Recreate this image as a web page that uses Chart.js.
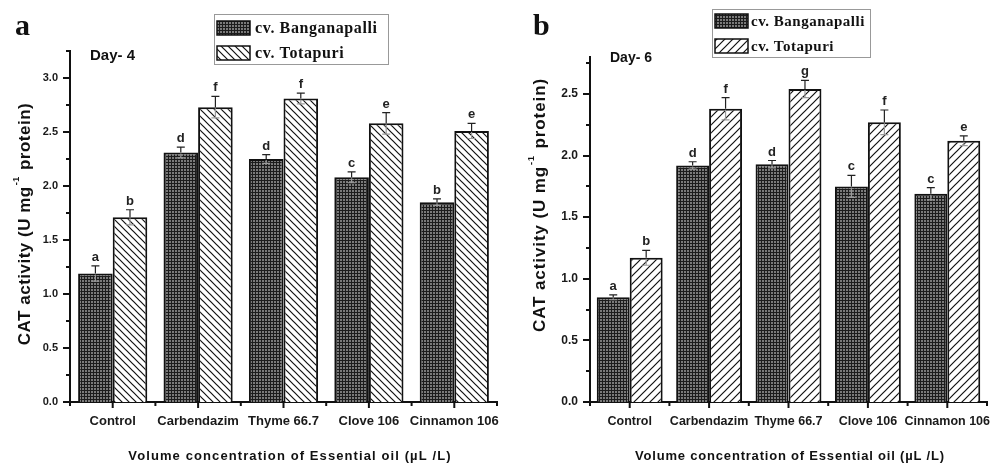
<!DOCTYPE html>
<html>
<head>
<meta charset="utf-8">
<script src="https://cdn.jsdelivr.net/npm/chart.js@4.4.0/dist/chart.umd.min.js"></script>
<style>
    html, body { margin: 0; padding: 0; background: #fff; }
    .panel { position: absolute; top: 0; height: 465px; }
    #panelA { left: 0; width: 500px; }
    #panelB { left: 500px; width: 503px; }
</style>
</head>
<body>
<div class="panel" id="panelA"><canvas id="day4Chart" width="500" height="465"></canvas></div>
<div class="panel" id="panelB"><canvas id="day6Chart" width="503" height="465"></canvas></div>
<script>
const categories = ['Control', 'Carbendazim', 'Thyme 66.7', 'Clove 106', 'Cinnamon 106'];
const seriesNames = ['cv. Banganapalli', 'cv. Totapuri'];

// Day 4
const day4Banganapalli = [1.19, 2.31, 2.25, 2.08, 1.85];
const day4BanganapalliErr = [0.07, 0.05, 0.04, 0.05, 0.03];
const day4BanganapalliLetters = ['a', 'd', 'd', 'c', 'b'];
const day4Totapuri = [1.71, 2.73, 2.81, 2.58, 2.51];
const day4TotapuriErr = [0.07, 0.10, 0.05, 0.10, 0.07];
const day4TotapuriLetters = ['b', 'f', 'f', 'e', 'e'];
const day4YTicks = [0, 0.5, 1.0, 1.5, 2.0, 2.5, 3.0];

// Day 6
const day6Banganapalli = [0.85, 1.92, 1.93, 1.75, 1.69];
const day6BanganapalliErr = [0.02, 0.03, 0.03, 0.09, 0.05];
const day6BanganapalliLetters = ['a', 'd', 'd', 'c', 'c'];
const day6Totapuri = [1.17, 2.38, 2.54, 2.27, 2.12];
const day6TotapuriErr = [0.06, 0.09, 0.07, 0.10, 0.04];
const day6TotapuriLetters = ['b', 'f', 'g', 'f', 'e'];
const day6YTicks = [0, 0.5, 1.0, 1.5, 2.0, 2.5];

const yTitleMain = 'CAT activity (U mg';
const yTitleSup = '-1';
const yTitleEnd = ' protein)';
const xTitle = 'Volume concentration of Essential oil (\u00b5L /L)';

const sans = '"Liberation Sans", Arial, sans-serif';
const serif = '"Liberation Serif", "Times New Roman", serif';


function gridPattern() {
    const c = document.createElement('canvas');
    c.width = 3; c.height = 3;
    const g = c.getContext('2d');
    g.fillStyle = '#7a7a7a';
    g.fillRect(0, 0, 3, 3);
    g.fillStyle = '#1c1c1c';
    g.fillRect(0, 0, 3, 1);
    g.fillRect(0, 0, 1, 3);
    return g.createPattern(c, 'repeat');
}

function hatchPattern(forward, size) {
    const c = document.createElement('canvas');
    c.width = size; c.height = size;
    const g = c.getContext('2d');
    g.fillStyle = '#fff';
    g.fillRect(0, 0, size, size);
    g.strokeStyle = '#111';
    g.lineWidth = 1.2;
    g.beginPath();
    for (const k of [-size, 0, size]) {
        if (forward) {
            g.moveTo(k - 1, size + 1); g.lineTo(k + size + 1, -1);
        } else {
            g.moveTo(k - 1, -1); g.lineTo(k + size + 1, size + 1);
        }
    }
    g.stroke();
    return g.createPattern(c, 'repeat');
}


// ticks, error bars, letters, legend and labels
const panelDecor = {
    id: 'panelDecor',
    afterDatasetsDraw(chart, args, opts) {
        const ctx = chart.ctx;
        const x = chart.scales.x;
        const y = chart.scales.y;
        const area = chart.chartArea;

        ctx.save();
        ctx.strokeStyle = '#111';
        ctx.lineWidth = 2;

        // y ticks, major + minor
        for (let v = 0; v <= y.max + 1e-9; v += 0.25) {
            const py = Math.round(y.getPixelForValue(v));
            const major = Math.abs(v * 2 - Math.round(v * 2)) < 1e-6;
            ctx.beginPath();
            ctx.moveTo(area.left, py);
            ctx.lineTo(area.left - (major ? 7 : 4), py);
            ctx.stroke();
        }
        // x ticks at centers and boundaries
        const step = (area.right - area.left) / categories.length;
        for (let i = 0; i <= categories.length; i++) {
            const bx = area.left + i * step;
            ctx.beginPath();
            ctx.moveTo(bx, area.bottom);
            ctx.lineTo(bx, area.bottom + 4);
            ctx.stroke();
            if (i < categories.length) {
                const cx = x.getPixelForValue(i);
                ctx.beginPath();
                ctx.moveTo(cx, area.bottom);
                ctx.lineTo(cx, area.bottom + 6);
                ctx.stroke();
            }
        }

        // error bars and letters
        chart.data.datasets.forEach((ds, di) => {
            const meta = chart.getDatasetMeta(di);
            meta.data.forEach((bar, i) => {
                const v = ds.data[i];
                const e = ds.errors[i];
                const top = y.getPixelForValue(v + e);
                const mid = y.getPixelForValue(v);
                const bot = y.getPixelForValue(v - e);
                ctx.lineWidth = 1.2;
                ctx.strokeStyle = '#222';
                ctx.beginPath();
                ctx.moveTo(bar.x, top); ctx.lineTo(bar.x, mid);
                ctx.moveTo(bar.x - 4, top); ctx.lineTo(bar.x + 4, top);
                ctx.stroke();
                ctx.strokeStyle = '#9a9a9a';
                ctx.beginPath();
                ctx.moveTo(bar.x, mid + 1); ctx.lineTo(bar.x, bot);
                ctx.moveTo(bar.x - 4, bot); ctx.lineTo(bar.x + 4, bot);
                ctx.stroke();
                ctx.fillStyle = '#222';
                ctx.font = 'bold 13px ' + sans;
                ctx.textAlign = 'center';
                ctx.textBaseline = 'alphabetic';
                ctx.fillText(ds.letters[i], bar.x, top - 5);
            });
        });

        // legend box
        const lg = opts.legend;
        ctx.strokeStyle = '#999';
        ctx.lineWidth = 1;
        ctx.strokeRect(lg.x + 0.5, lg.y + 0.5, lg.w, lg.h);
        chart.data.datasets.forEach((ds, di) => {
            const sy = lg.y + lg.rowTop + di * lg.rowGap;
            ctx.fillStyle = ds.backgroundColor;
            ctx.fillRect(lg.x + 3, sy, 33, lg.swH);
            ctx.strokeStyle = '#111';
            ctx.lineWidth = 1.5;
            ctx.strokeRect(lg.x + 3, sy, 33, lg.swH);
            ctx.fillStyle = '#111';
            ctx.font = 'bold ' + lg.font + 'px ' + serif;
            ctx.textAlign = 'left';
            ctx.textBaseline = 'middle';
            ctx.letterSpacing = lg.spacing + 'px';
            ctx.fillText(ds.label, lg.x + lg.textOff, sy + lg.swH / 2 + 1);
            ctx.letterSpacing = '0px';
        });

        // panel letter and day label
        ctx.fillStyle = '#111';
        ctx.textAlign = 'left';
        ctx.textBaseline = 'alphabetic';
        ctx.font = 'bold 30px ' + serif;
        ctx.fillText(opts.panel, opts.panelX, 35);
        ctx.font = 'bold ' + opts.dayFont + 'px ' + sans;
        ctx.fillText(opts.day, opts.dayX, opts.dayY);

        // y title with superscript
        ctx.save();
        ctx.translate(opts.yTitleX, opts.yTitleY);
        ctx.rotate(-Math.PI / 2);
        ctx.letterSpacing = opts.yTitleSpacing + 'px';
        ctx.font = 'bold 17px ' + sans;
        const w1 = ctx.measureText(yTitleMain).width;
        const w3 = ctx.measureText(yTitleEnd).width;
        ctx.font = 'bold 9px ' + sans;
        const w2 = ctx.measureText(yTitleSup).width + 2;
        let tx = -(w1 + w2 + w3) / 2;
        ctx.textBaseline = 'middle';
        ctx.font = 'bold 17px ' + sans;
        ctx.fillText(yTitleMain, tx, 0);
        ctx.font = 'bold 9px ' + sans;
        ctx.fillText(yTitleSup, tx + w1 + 1, -8);
        ctx.font = 'bold 17px ' + sans;
        ctx.fillText(yTitleEnd, tx + w1 + w2, 0);
        ctx.restore();

        // x title, letter spaced
        ctx.font = 'bold 13px ' + sans;
        ctx.textAlign = 'center';
        ctx.textBaseline = 'middle';
        ctx.letterSpacing = opts.xTitleSpacing + 'px';
        ctx.fillText(xTitle, opts.xTitleX, 456);
        ctx.letterSpacing = '0px';

        ctx.restore();
    }
};


function buildChart(canvasId, cfg) {
    const ctx = document.getElementById(canvasId);
    const grid = gridPattern();
    const hatch = hatchPattern(cfg.forward, cfg.hatchSize);

    return new Chart(ctx, {
        type: 'bar',
        data: {
            labels: categories,
            datasets: [
                {
                    label: seriesNames[0],
                    data: cfg.banganapalli,
                    errors: cfg.banganapalliErr,
                    letters: cfg.banganapalliLetters,
                    backgroundColor: grid,
                    borderColor: '#111',
                    borderWidth: 2,
                    categoryPercentage: cfg.catPct,
                    barPercentage: 1.0
                },
                {
                    label: seriesNames[1],
                    data: cfg.totapuri,
                    errors: cfg.totapuriErr,
                    letters: cfg.totapuriLetters,
                    backgroundColor: hatch,
                    borderColor: '#111',
                    borderWidth: 2,
                    categoryPercentage: cfg.catPct,
                    barPercentage: 1.0
                }
            ]
        },
        options: {
            responsive: false,
            animation: false,
            layout: {
                padding: { left: 0, right: cfg.padRight, top: cfg.padTop, bottom: 0 }
            },
            plugins: {
                legend: { display: false },
                tooltip: { enabled: false },
                panelDecor: cfg.decor
            },
            scales: {
                x: {
                    afterFit: s => {
                        s.height = 63;
                        s.paddingLeft = 0;
                        s.paddingRight = 0;
                    },
                    grid: { display: false, drawTicks: false },
                    border: { display: true, color: '#111', width: 2 },
                    ticks: {
                        color: '#1a1a1a',
                        font: { family: sans, size: cfg.xFont, weight: 'bold' },
                        padding: 12,
                        maxRotation: 0,
                        autoSkip: false
                    }
                },
                y: {
                    min: 0,
                    max: cfg.yMax,
                    afterFit: s => {
                        s.width = cfg.yWidth;
                        s.paddingTop = 0;
                        s.paddingBottom = 0;
                    },
                    afterBuildTicks: s => { s.ticks = cfg.yTicks.map(v => ({ value: v })); },
                    grid: { display: false, drawTicks: false },
                    border: { display: true, color: '#111', width: 2 },
                    ticks: {
                        color: '#1a1a1a',
                        font: { family: sans, size: cfg.yFont, weight: 'bold' },
                        padding: 12,
                        callback: v => v.toFixed(1)
                    }
                }
            }
        },
        plugins: [panelDecor]
    });
}

buildChart('day4Chart', {
    banganapalli: day4Banganapalli,
    banganapalliErr: day4BanganapalliErr,
    banganapalliLetters: day4BanganapalliLetters,
    totapuri: day4Totapuri,
    totapuriErr: day4TotapuriErr,
    totapuriLetters: day4TotapuriLetters,
    yTicks: day4YTicks,
    yMax: 3.25,
    forward: false,
    hatchSize: 7,
    catPct: 0.81,
    padRight: 3,
    padTop: 51,
    yWidth: 70,
    xFont: 13,
    yFont: 11,
    decor: {
        legend: { x: 214, y: 14, w: 174, h: 50, rowTop: 7, rowGap: 25, swH: 14, font: 16, textOff: 41, spacing: 0.6 },
        panel: 'a', panelX: 15,
        day: 'Day- 4', dayX: 90, dayY: 60, dayFont: 15,
        yTitleX: 25, yTitleY: 224, yTitleSpacing: 0.5,
        xTitleX: 290, xTitleSpacing: 1.1
    }
});

buildChart('day6Chart', {
    banganapalli: day6Banganapalli,
    banganapalliErr: day6BanganapalliErr,
    banganapalliLetters: day6BanganapalliLetters,
    totapuri: day6Totapuri,
    totapuriErr: day6TotapuriErr,
    totapuriLetters: day6TotapuriLetters,
    yTicks: day6YTicks,
    yMax: 2.8,
    forward: true,
    hatchSize: 8,
    catPct: 0.83,
    padRight: 16,
    padTop: 57,
    yWidth: 90,
    xFont: 12.5,
    yFont: 12,
    decor: {
        legend: { x: 212, y: 9, w: 158, h: 48, rowTop: 5, rowGap: 25, swH: 14, font: 15, textOff: 39, spacing: 0.5 },
        panel: 'b', panelX: 33,
        day: 'Day- 6', dayX: 110, dayY: 62, dayFont: 14,
        yTitleX: 40, yTitleY: 205, yTitleSpacing: 0.9,
        xTitleX: 290, xTitleSpacing: 0.8
    }
});
</script>
</body>
</html>
